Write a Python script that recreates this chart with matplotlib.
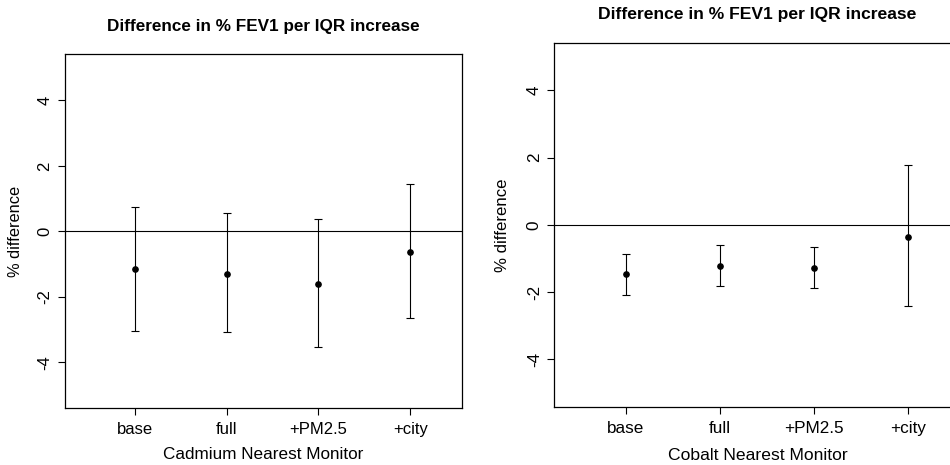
import numpy as np
import matplotlib.pyplot as plt

plt.rcParams['font.family'] = ['Liberation Sans', 'DejaVu Sans']

# modeles compares
models = ['base', 'full', '+PM2.5', '+city']

# Cadmium (moniteur le plus proche)
cd_est = [-1.16, -1.30, -1.60, -0.63]
cd_low = [-3.04, -3.09, -3.55, -2.66]
cd_high = [0.73, 0.55, 0.39, 1.45]

# Cobalt (moniteur le plus proche)
co_est = [-1.47, -1.21, -1.27, -0.35]
co_low = [-2.08, -1.81, -1.89, -2.42]
co_high = [-0.86, -0.60, -0.65, 1.78]

W, H = 950, 465
fig = plt.figure(figsize=(W / 100, H / 100), dpi=100)


def px(x, y):
    """pixels (origine en haut a gauche) -> coordonnees figure"""
    return x / W, 1 - y / H


def panel(rect, est, low, high, xlabel, title_xy, ylab_xy, xlab_y, fs=1.0):
    ax = fig.add_axes(rect)
    x = np.arange(1, len(models) + 1)
    est = np.array(est)
    err = [est - np.array(low), np.array(high) - est]
    ax.errorbar(x, est, yerr=err, fmt='o', color='black', ms=3.8,
                elinewidth=0.8, capsize=3, capthick=0.8)
    ax.axhline(0, color='black', lw=0.8)
    ax.set_xlim(0.24, 4.56)
    ax.set_ylim(-5.41, 5.41)
    ax.set_xticks(x)
    ax.set_xticklabels(models, fontsize=12 * fs)
    ax.set_yticks([-4, -2, 0, 2, 4])
    ax.set_yticklabels(['-4', '-2', '0', '2', '4'], fontsize=12 * fs,
                       rotation=90, va='center')
    ax.tick_params(direction='out', length=5, width=0.8, pad=4)
    ax.tick_params(axis='x', pad=5)
    for s in ax.spines.values():
        s.set_linewidth(0.9)
    fig.text(*px(*title_xy), 'Difference in % FEV1 per IQR increase',
             ha='center', va='center', fontsize=12.3 * fs, fontweight='bold')
    fig.text(*px(*ylab_xy), '% difference', ha='center', va='center',
             rotation=90, fontsize=11.8 * fs)
    fig.text(*px(title_xy[0], xlab_y), xlabel, ha='center', va='center',
             fontsize=12.3 * fs)
    return ax


panel([65 / W, 1 - 408.3 / H, 396.7 / W, 354 / H],
      cd_est, cd_low, cd_high, 'Cadmium Nearest Monitor',
      (263.3, 26.5), (15.5, 231), 454)
panel([554.3 / W, 1 - 406.7 / H, 406.3 / W, 363.7 / H],
      co_est, co_low, co_high, 'Cobalt Nearest Monitor',
      (757.5, 15), (502.5, 225), 455, fs=1.025)

plt.savefig('out.png', dpi=100)
